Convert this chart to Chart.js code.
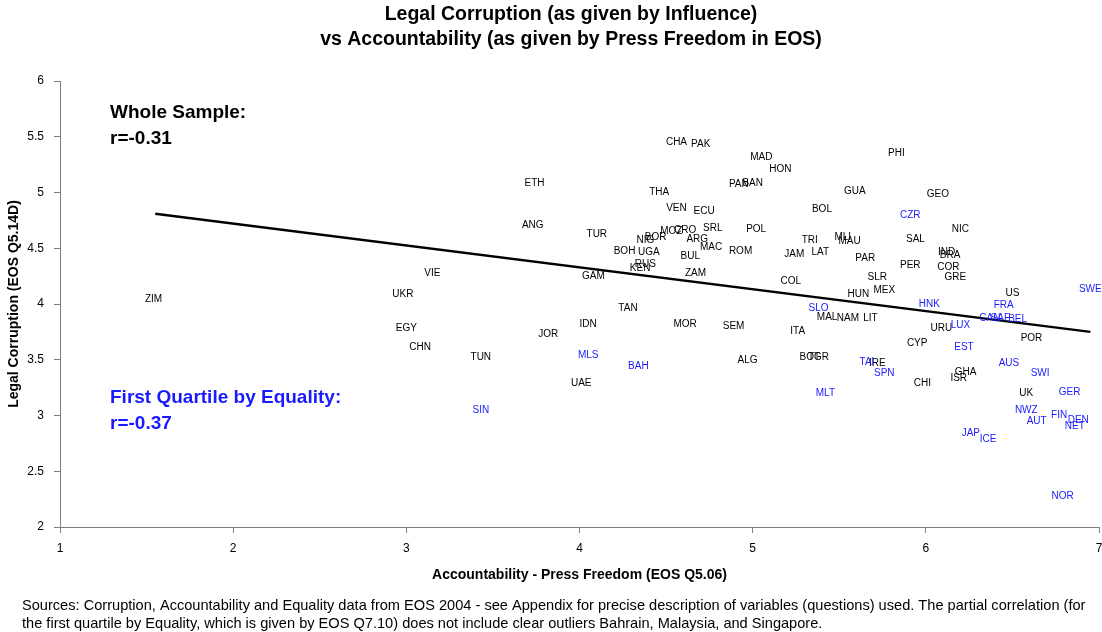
<!DOCTYPE html>
<html>
<head>
<meta charset="utf-8">
<script src="https://cdn.jsdelivr.net/npm/chart.js@4.4.1/dist/chart.umd.min.js"></script>
<style>
  html, body { margin:0; padding:0; background:#fff; }
  #wrap { width:1102px; height:632px; }
</style>
</head>
<body>
<div id="wrap"><canvas id="chart" width="1102" height="632"></canvas></div>
<script>
  // Countries outside the first quartile by equality (black)
  const restCodes = ['ZIM','UKR','VIE','EGY','CHN','TUN','ETH','ANG','TUR','JOR','IDN','UAE','GAM','TAN',
    'CHA','PAK','THA','VEN','ECU','MOZ','CRO','BOR','NIG','SRL','ARG','MAC','BOH','UGA','RUS','KEN',
    'BUL','ZAM','MOR','SEM','ALG','POL','ROM','MAD','HON','PAN','BAN','JAM','COL','PHI','GUA','GEO',
    'BOL','NIC','TRI','MLI','MAU','LAT','SAL','PAR','IND','BRA','PER','COR','GRE','SLR','MEX','HUN',
    'MAL','NAM','LIT','ITA','URU','CYP','POR','US','BOT','TGR','IRE','CHI','GHA','ISR','UK'];
  const restX = [1.54,2.98,3.15,3.00,3.08,3.43,3.74,3.73,4.10,3.82,4.05,4.01,4.08,4.28,
    4.56,4.70,4.46,4.56,4.72,4.53,4.61,4.44,4.38,4.77,4.68,4.76,4.26,4.40,4.38,4.35,
    4.64,4.67,4.61,4.89,4.97,5.02,4.93,5.05,5.16,4.92,5.00,5.24,5.22,5.83,5.59,6.07,
    5.40,6.20,5.33,5.52,5.56,5.39,5.94,5.65,6.12,6.14,5.91,6.13,6.17,5.72,5.76,5.61,
    5.43,5.55,5.68,5.26,6.09,5.95,6.61,6.50,5.33,5.38,5.72,5.98,6.23,6.19,6.58];
  const restY = [4.04,4.09,4.28,3.78,3.61,3.52,5.08,4.71,4.63,3.73,3.82,3.29,4.25,3.96,
    5.45,5.43,5.00,4.86,4.83,4.65,4.66,4.60,4.57,4.68,4.58,4.51,4.47,4.46,4.36,4.32,
    4.43,4.28,3.82,3.80,3.50,4.67,4.47,5.32,5.21,5.07,5.08,4.45,4.20,5.35,5.01,4.98,
    4.85,4.67,4.57,4.60,4.56,4.46,4.58,4.41,4.46,4.44,4.35,4.33,4.24,4.24,4.12,4.09,
    3.88,3.87,3.87,3.76,3.78,3.65,3.69,4.10,3.52,3.52,3.47,3.29,3.39,3.33,3.20];

  // First quartile by equality (blue)
  const q1Codes = ['SIN','MLS','BAH','CZR','SLO','HNK','FRA','CAN','SAF','BEL','SWE','LUX','EST','TAI',
    'SPN','MLT','AUS','SWI','GER','NWZ','AUT','FIN','DEN','NET','JAP','ICE','NOR'];
  const q1X = [3.43,4.05,4.34,5.91,5.38,6.02,6.45,6.37,6.43,6.53,6.95,6.20,6.22,5.66,
    5.76,5.42,6.48,6.66,6.83,6.58,6.64,6.77,6.88,6.86,6.26,6.36,6.79];
  const q1Y = [3.05,3.54,3.44,4.80,3.96,4.00,3.99,3.87,3.87,3.86,4.13,3.81,3.61,3.48,
    3.38,3.20,3.47,3.38,3.21,3.05,2.95,3.00,2.96,2.90,2.84,2.79,2.28];

  // Whole-sample fit line
  const fitX = [1.55, 6.95];
  const fitY = [4.81, 3.75];

  const titleLines = ['Legal Corruption (as given by Influence)', 'vs Accountability (as given by Press Freedom in EOS)'];

  const BLUE = '#1a1aff';
  const FONT = '"Liberation Sans", Arial, sans-serif';
  const pts = (xs, ys) => xs.map((x, i) => ({ x, y: ys[i] }));

  // Draw the country codes where the (hidden) points are
  const codeLabels = {
    id: 'codeLabels',
    afterDatasetsDraw(chart) {
      const { ctx } = chart;
      ctx.save();
      ctx.font = '10px ' + FONT;
      ctx.textAlign = 'center';
      ctx.textBaseline = 'middle';
      chart.data.datasets.forEach((ds, i) => {
        if (!ds.codes) return;
        ctx.fillStyle = ds.textColor;
        chart.getDatasetMeta(i).data.forEach((el, j) => ctx.fillText(ds.codes[j], el.x, el.y));
      });
      ctx.restore();
    }
  };

  // Title, correlation notes and source line
  const notes = {
    id: 'notes',
    afterDraw(chart) {
      const { ctx } = chart;
      ctx.save();
      ctx.textBaseline = 'middle';
      ctx.fillStyle = '#000';
      ctx.textAlign = 'center';
      ctx.font = 'bold 19.5px ' + FONT;
      titleLines.forEach((t, i) => ctx.fillText(t, 571, 15 + i * 25));

      ctx.textAlign = 'left';
      ctx.font = 'bold 19px ' + FONT;
      ctx.fillText('Whole Sample:', 110, 113);
      ctx.fillText('r=-0.31', 110, 139);
      ctx.fillStyle = BLUE;
      ctx.fillText('First Quartile by Equality:', 110, 398);
      ctx.fillText('r=-0.37', 110, 424);
      ctx.font = '14.6px ' + FONT;
      ctx.fillStyle = '#000';
      ctx.fillText('Sources: Corruption, Accountability and Equality data from EOS 2004 - see Appendix for precise description of variables (questions) used. The partial correlation (for', 22, 606);
      ctx.fillText('the first quartile by Equality, which is given by EOS Q7.10) does not include clear outliers Bahrain, Malaysia, and Singapore.', 22, 624);
      ctx.restore();
    }
  };

  new Chart(document.getElementById('chart'), {
    type: 'scatter',
    data: {
      datasets: [
        { label:'Rest', data: pts(restX, restY), codes: restCodes, textColor:'#000', pointRadius:0, pointHoverRadius:0 },
        { label:'First quartile', data: pts(q1X, q1Y), codes: q1Codes, textColor: BLUE, pointRadius:0, pointHoverRadius:0 },
        { label:'Fit', type:'line', data: pts(fitX, fitY), borderColor:'#000', borderWidth:2.5, pointRadius:0, fill:false }
      ]
    },
    options: {
      responsive: false,
      animation: false,
      layout: { padding: { left:0, right:3, top:81, bottom:42 } },
      plugins: {
        legend: { display:false },
        tooltip: { enabled:false },
        title: { display:false }
      },
      scales: {
        x: {
          type: 'linear', min: 1, max: 7,
          ticks: { stepSize: 1, color:'#000', padding: 8, font: { family: FONT, size: 12 } },
          grid: { drawOnChartArea:false, drawTicks:true, tickLength:6, color:'#808080' },
          border: { display:true, color:'#808080' },
          title: { display:true, text:'Accountability - Press Freedom (EOS Q5.06)', color:'#000',
                   font: { family: FONT, size: 14, weight:'bold' }, padding: { top:0, bottom:6 } },
          afterFit(scale) { scale.height = 63; scale.paddingLeft = 0; scale.paddingRight = 0; }
        },
        y: {
          type: 'linear', min: 2, max: 6,
          ticks: { stepSize: 0.5, color:'#000', padding: 10, font: { family: FONT, size: 12 }, callback: v => String(v) },
          grid: { drawOnChartArea:false, drawTicks:true, tickLength:6, color:'#808080' },
          border: { display:true, color:'#808080' },
          title: { display:true, text:'Legal Corruption (EOS Q5.14D)', color:'#000',
                   font: { family: FONT, size: 14, weight:'bold' }, padding: { top:6, bottom:0 } },
          afterFit(scale) { scale.width = 60; scale.paddingTop = 0; scale.paddingBottom = 0; }
        }
      }
    },
    plugins: [codeLabels, notes]
  });
</script>
</body>
</html>
